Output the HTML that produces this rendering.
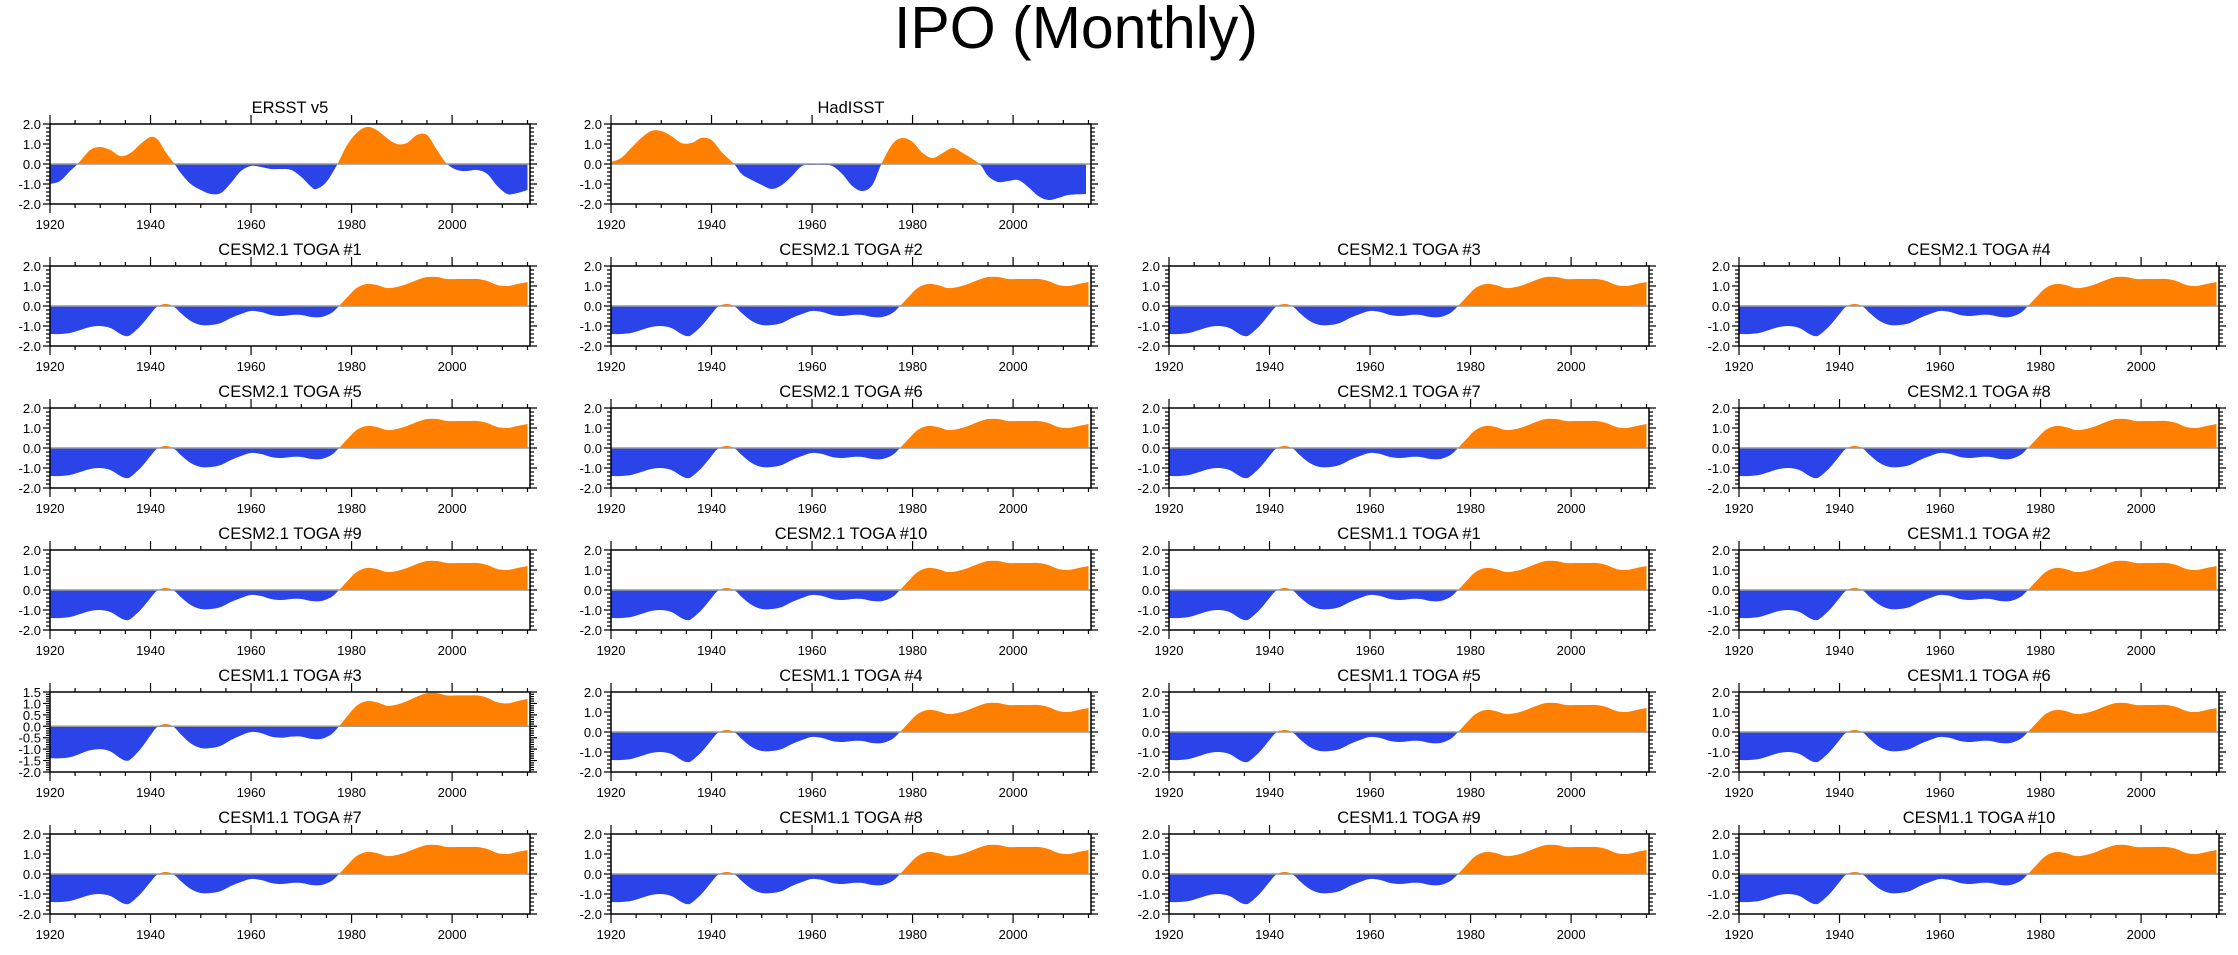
<!DOCTYPE html>
<html><head><meta charset="utf-8">
<style>
html,body{margin:0;padding:0;background:#fff;}
svg{display:block;font-family:"Liberation Sans",sans-serif;}
</style></head>
<body>
<svg id="fig" width="2238" height="955" viewBox="0 0 2238 955" xmlns="http://www.w3.org/2000/svg">
<text x="1076" y="48" text-anchor="middle" font-size="59" fill="#000">IPO (Monthly)</text>
</svg>
<script>
// ---- data ----
const togaYears = [1920,1922,1924,1926,1928,1930,1932,1934,1935,1936,1938,1940,1941,1942,1943,1944,1945,1946,1948,1950,1952,1954,1956,1958,1960,1962,1964,1966,1968,1970,1972,1974,1976,1977.5,1979,1981,1983,1985,1987,1989,1991,1993,1995,1997,1999,2001,2003,2005,2007,2009,2011,2013,2015];
const togaValues = [-1.4,-1.4,-1.35,-1.2,-1.05,-1.0,-1.1,-1.4,-1.5,-1.45,-1.0,-0.4,-0.1,0.05,0.1,0.05,-0.1,-0.35,-0.75,-0.95,-0.95,-0.85,-0.6,-0.4,-0.25,-0.3,-0.45,-0.5,-0.45,-0.45,-0.55,-0.55,-0.35,0,0.4,0.9,1.1,1.05,0.9,0.95,1.1,1.3,1.45,1.45,1.35,1.35,1.35,1.35,1.25,1.05,1.0,1.1,1.2];
const ersstYears = [1920,1922,1924,1925.5,1928,1930,1932,1934,1936,1938,1940,1941.5,1943,1944.8,1946,1948,1950,1952,1954,1956,1958,1960,1962,1964,1966,1968,1970,1972,1973,1975,1977.2,1979,1981,1983,1985,1987,1989,1991,1993,1995,1997,1999,2001,2003,2005,2007,2009,2011,2013,2015];
const ersstValues = [-1.0,-0.85,-0.35,0,0.7,0.85,0.7,0.4,0.55,1.0,1.35,1.2,0.6,0,-0.45,-1.0,-1.3,-1.5,-1.45,-0.95,-0.35,-0.1,-0.15,-0.25,-0.25,-0.3,-0.65,-1.15,-1.25,-0.9,0,0.9,1.55,1.85,1.7,1.3,1.0,1.05,1.45,1.45,0.7,0,-0.3,-0.35,-0.3,-0.5,-1.1,-1.5,-1.45,-1.3];
const hadYears = [1920,1922,1924,1926,1928,1930,1932,1934,1936,1938,1940,1942,1944.5,1946,1948,1950,1952,1954,1956,1958,1960,1962,1964,1966,1968,1970,1972,1973.8,1976,1978,1980,1982,1984,1986,1988,1990,1993.3,1995,1997,1999,2001,2003,2005,2007,2009,2011,2014.5];
const hadValues = [0.1,0.3,0.8,1.3,1.65,1.65,1.4,1.05,1.05,1.3,1.2,0.6,0,-0.5,-0.8,-1.05,-1.25,-1.05,-0.6,-0.1,-0.05,-0.05,-0.1,-0.5,-1.1,-1.35,-1.05,0,1.0,1.3,1.1,0.55,0.3,0.55,0.8,0.55,0,-0.6,-0.9,-0.85,-0.8,-1.15,-1.6,-1.8,-1.7,-1.55,-1.5];
const xTickLabels = [1920,1940,1960,1980,2000];
const panelTitles = ["ERSST v5","HadISST",null,null,
 "CESM2.1 TOGA #1","CESM2.1 TOGA #2","CESM2.1 TOGA #3","CESM2.1 TOGA #4",
 "CESM2.1 TOGA #5","CESM2.1 TOGA #6","CESM2.1 TOGA #7","CESM2.1 TOGA #8",
 "CESM2.1 TOGA #9","CESM2.1 TOGA #10","CESM1.1 TOGA #1","CESM1.1 TOGA #2",
 "CESM1.1 TOGA #3","CESM1.1 TOGA #4","CESM1.1 TOGA #5","CESM1.1 TOGA #6",
 "CESM1.1 TOGA #7","CESM1.1 TOGA #8","CESM1.1 TOGA #9","CESM1.1 TOGA #10"];

const NS="http://www.w3.org/2000/svg";
const svg=document.getElementById('fig');
const colLefts=[50,611,1169,1739], W=480, H=80, top0=124, pitch=142;
const XMIN=1920, XMAX=2015.5;
function mk(tag,attrs,parent){const e=document.createElementNS(NS,tag);for(const k in attrs)e.setAttribute(k,attrs[k]);(parent||svg).appendChild(e);return e;}
function smoothPath(pts){
  let d="M"+pts[0][0].toFixed(1)+","+pts[0][1].toFixed(1);
  for(let i=0;i<pts.length-1;i++){
    const p0=pts[Math.max(0,i-1)],p1=pts[i],p2=pts[i+1],p3=pts[Math.min(pts.length-1,i+2)];
    const c1=[p1[0]+(p2[0]-p0[0])/6,p1[1]+(p2[1]-p0[1])/6];
    const c2=[p2[0]-(p3[0]-p1[0])/6,p2[1]-(p3[1]-p1[1])/6];
    d+="C"+c1[0].toFixed(1)+","+c1[1].toFixed(1)+" "+c2[0].toFixed(1)+","+c2[1].toFixed(1)+" "+p2[0].toFixed(1)+","+p2[1].toFixed(1);
  }
  return d;
}
panelTitles.forEach((title,idx)=>{
  if(!title) return;
  const r=Math.floor(idx/4), c=idx%4;
  const L=colLefts[c], T=top0+r*pitch;
  const special = title==="CESM1.1 TOGA #3";
  const ymin=-2, ymax= special?1.5:2;
  const yStep= special?0.5:1.0, yMinor= special?0.1:0.2;
  let yrs=togaYears, vals=togaValues;
  if(title==="ERSST v5"){yrs=ersstYears;vals=ersstValues;}
  if(title==="HadISST"){yrs=hadYears;vals=hadValues;}
  const xs=v=>L+(v-XMIN)/(XMAX-XMIN)*W;
  const ys=v=>T+(ymax-v)/(ymax-ymin)*H;
  const slug=title.toLowerCase().replace(/[^a-z0-9]+/g,'-').replace(/-$/,'');
  const g=mk('g',{});
  
  
  const t=mk('text',{x:L+W/2,y:T-11,'text-anchor':'middle','font-size':16.5,fill:'#000'},g);
  t.textContent=title;
  
  
  const y0=ys(0);
  const pts=yrs.map((y,i)=>[xs(y),ys(vals[i])]);
  const d=smoothPath(pts)+"L"+xs(yrs[yrs.length-1]).toFixed(1)+","+y0.toFixed(1)+"L"+xs(yrs[0]).toFixed(1)+","+y0.toFixed(1)+"Z";
  const cidA='ca'+idx, cidB='cb'+idx;
  const defs=mk('defs',{},g);
  const ca=mk('clipPath',{id:cidA},defs); mk('rect',{x:L,y:T,width:W,height:y0-T},ca);
  const cb=mk('clipPath',{id:cidB},defs); mk('rect',{x:L,y:y0,width:W,height:T+H-y0},cb);
  const pos=mk('path',{d:d,fill:'#ff8000','clip-path':'url(#'+cidA+')'},g);
  
  
  const neg=mk('path',{d:d,fill:'#2a44ea','clip-path':'url(#'+cidB+')'},g);
  
  
  const zl=mk('line',{x1:L,x2:L+W,y1:y0,y2:y0,stroke:'#999','stroke-width':1.5},g);
  
  
  const fr=mk('rect',{x:L,y:T,width:W,height:H,fill:'none',stroke:'#000','stroke-width':1.5},g);
  
  
  let tk="";
  for(let yr=1920;yr<=2015;yr+=5){
    const x=xs(yr), len=(yr%20===0)?9:4;
    tk+=`M${x},${T}v${-len}M${x},${T+H}v${len}`;
  }
  const nMin=Math.round((ymax-ymin)/yMinor);
  for(let i=0;i<=nMin;i++){
    const v=ymin+i*yMinor, y=ys(v);
    const major=Math.abs(v/yStep-Math.round(v/yStep))<1e-6;
    const len=major?7:4;
    tk+=`M${L},${y}h${-len}M${L+W},${y}h${len}`;
  }
  mk('path',{d:tk,stroke:'#000','stroke-width':1.2,fill:'none'},g);
  xTickLabels.forEach(v=>{
    const tl=mk('text',{x:xs(v),y:T+H+25,'text-anchor':'middle','font-size':13,fill:'#000'},g);
    tl.textContent=v;
    
    
  });
  for(let v=ymin; v<=ymax+1e-6; v+=yStep){
    const tl=mk('text',{x:L-9,y:ys(v)+5,'text-anchor':'end','font-size':13,fill:'#000'},g);
    tl.textContent=v.toFixed(1);
    
    
  }
});
</script>
</body></html>
